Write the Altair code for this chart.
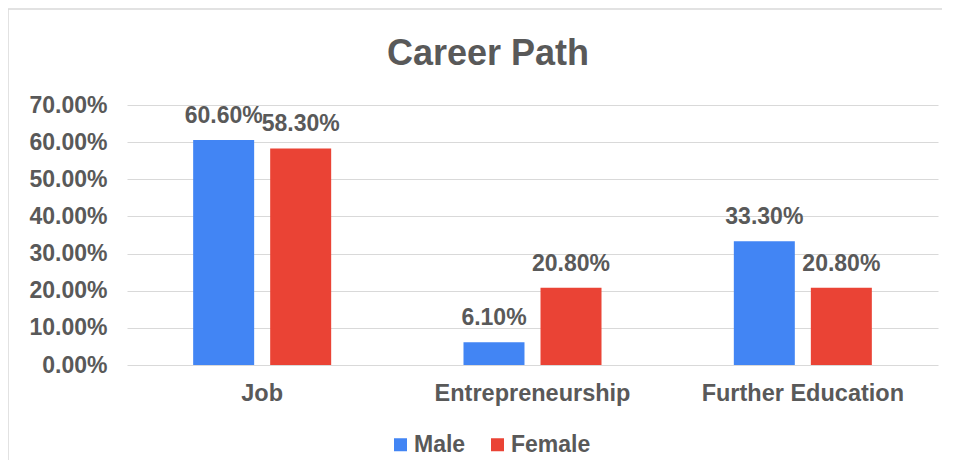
import altair as alt
import pandas as pd

categories = ["Job", "Entrepreneurship", "Further Education"]
series = ["Male", "Female"]
male_values = [60.6, 6.1, 33.3]
female_values = [58.3, 20.8, 20.8]
colors = ["#4285F4", "#EA4335"]
y_ticks = [0.0, 0.1, 0.2, 0.3, 0.4, 0.5, 0.6, 0.7]
chart_title = ["Career Path"]

rows = []
for c, m, f in zip(categories, male_values, female_values):
    rows.append({"category": c, "series": "Male", "value": m / 100, "label": f"{m:.2f}%"})
    rows.append({"category": c, "series": "Female", "value": f / 100, "label": f"{f:.2f}%"})
df = pd.DataFrame(rows)

FONT = "Liberation Sans"
TXT = "#595959"
GRID = "#d9d9d9"

x = alt.X(
    "category:N", sort=categories, title=None,
    scale=alt.Scale(paddingInner=0, paddingOuter=0),
    axis=alt.Axis(labelAngle=0, labelFontSize=23.5, labelFontWeight="bold", labelColor=TXT,
                  labelFont=FONT, labelPadding=16, labelLimit=0, domain=False, ticks=False),
)
xo = alt.XOffset("series:N", sort=series,
                 scale=alt.Scale(paddingInner=0.208, paddingOuter=0.859))
y = alt.Y(
    "value:Q", title=None,
    scale=alt.Scale(domain=[0, 0.7]),
    axis=alt.Axis(format=".2%", values=y_ticks, labelFontSize=23, labelFontWeight="bold",
                  labelColor=TXT, labelFont=FONT, labelPadding=20, domain=False, ticks=False,
                  gridColor=GRID, gridWidth=1),
)
color = alt.Color(
    "series:N", sort=series, title=None,
    scale=alt.Scale(domain=series, range=colors),
    legend=alt.Legend(orient="none", direction="horizontal", legendX=262, legendY=328,
                      symbolType="square", symbolSize=169, symbolStrokeWidth=0,
                      labelFontSize=23, labelFontWeight="bold", labelColor=TXT, labelFont=FONT,
                      labelOffset=2, columnPadding=20),
)

bars = alt.Chart(df).mark_bar().encode(x=x, xOffset=xo, y=y, color=color)
labels = alt.Chart(df).mark_text(
    baseline="alphabetic", dy=-17, fontSize=23, fontWeight="bold", color=TXT, font=FONT
).encode(x=x, xOffset=xo, y=y, text="label:N")

one = pd.DataFrame({"a": [0]})
top_line = alt.Chart(one).mark_rule(color=GRID, strokeWidth=1.5).encode(
    x=alt.value(-119), x2=alt.value(815), y=alt.value(-96))
left_line = alt.Chart(one).mark_rule(color=GRID, strokeWidth=1.5).encode(
    x=alt.value(-119), y=alt.value(-96), y2=alt.value(355))

title = alt.Chart(pd.DataFrame({"t": chart_title})).mark_text(
    fontSize=36, fontWeight="bold", color=TXT, font=FONT, baseline="alphabetic", align="center"
).encode(x=alt.value(361), y=alt.value(-40), text="t:N")

chart = alt.layer(top_line, left_line, bars, labels, title).properties(
    width=811, height=260,
    autosize=alt.AutoSizeParams(type="none"),
    padding={"left": 119, "top": 97, "right": 5, "bottom": 95},
).configure_view(stroke=None)

chart.save("out.html", embed_options={"renderer": "svg", "actions": False})
